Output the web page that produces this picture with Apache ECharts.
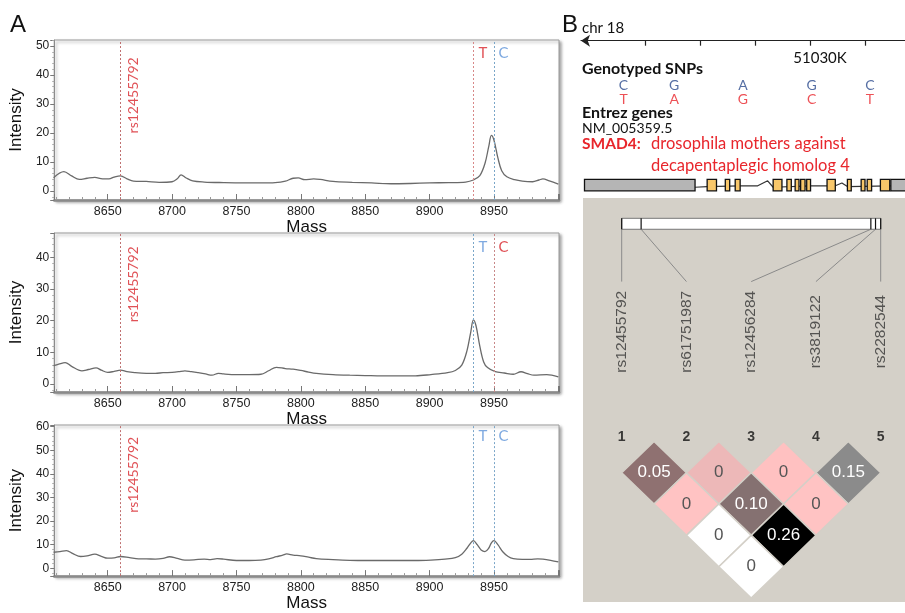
<!DOCTYPE html>
<html><head><meta charset="utf-8">
<script src="https://cdn.jsdelivr.net/npm/echarts@6/dist/echarts.min.js"></script>
<style>html,body{margin:0;padding:0;background:#fff}#c{width:905px;height:613px}</style>
</head><body><div id="c"></div>
<script>
// ---------------- DATA ----------------
// Panel A: mass spectra [mass, intensity]
const spectrumTop = [[8608,4.6],[8616,6.7],[8622,5.2],[8628,4.0],[8634,4.4],[8640,4.7],[8646,4.2],[8651,4.2],[8655,4.8],[8660,5.2],[8665,4.2],[8670,3.4],[8680,3.3],[8690,3.0],[8700,3.2],[8704,4.2],[8707,5.6],[8711,4.5],[8716,3.5],[8725,3.1],[8740,2.9],[8755,2.8],[8770,2.8],[8780,2.9],[8788,3.4],[8794,4.4],[8798,4.5],[8803,3.9],[8810,4.2],[8815,4.0],[8825,3.3],[8840,3.0],[8855,2.8],[8870,2.5],[8885,2.6],[8900,2.8],[8915,2.9],[8928,3.1],[8934,3.8],[8939,5.3],[8943,9.5],[8946,15.5],[8948,19.2],[8950,17.5],[8953,11.5],[8956,7.0],[8960,4.9],[8966,3.9],[8972,3.4],[8980,3.2],[8985,3.8],[8988,4.2],[8993,3.5],[9000,2.4]];
const spectrumMiddle = [[8608,5.8],[8612,6.3],[8617,6.8],[8622,5.6],[8630,4.2],[8635,4.6],[8641,5.1],[8645,4.4],[8650,3.7],[8655,4.0],[8660,4.4],[8665,3.9],[8671,3.6],[8680,3.4],[8687,3.4],[8693,3.6],[8700,3.7],[8705,3.9],[8710,4.2],[8715,3.9],[8720,3.6],[8726,3.2],[8731,2.8],[8736,3.4],[8740,3.2],[8750,3.0],[8760,3.0],[8769,3.1],[8775,4.2],[8781,5.3],[8788,4.9],[8794,4.7],[8800,4.3],[8806,3.8],[8812,3.4],[8825,3.0],[8838,2.8],[8850,2.7],[8863,2.6],[8875,2.6],[8889,2.6],[8901,3.0],[8914,3.6],[8920,4.3],[8925,6.0],[8929,10.5],[8932,16.5],[8934,20.3],[8936,18.5],[8939,12.0],[8942,7.0],[8945,5.2],[8951,3.9],[8958,3.5],[8965,3.1],[8971,3.9],[8976,3.3],[8981,2.8],[8991,3.0],[9000,2.3]];
const spectrumBottom = [[8608,6.8],[8613,7.1],[8618,7.5],[8623,6.2],[8629,5.0],[8634,5.3],[8640,6.0],[8645,5.1],[8650,4.3],[8655,4.4],[8660,5.0],[8667,4.5],[8674,4.0],[8680,4.0],[8687,3.9],[8693,4.2],[8698,4.9],[8704,4.2],[8710,3.5],[8717,3.6],[8725,3.9],[8730,3.7],[8735,4.1],[8740,3.9],[8750,3.3],[8760,3.3],[8769,3.5],[8775,4.0],[8781,4.9],[8786,5.6],[8789,6.1],[8794,5.6],[8800,5.3],[8806,4.7],[8812,4.1],[8825,3.7],[8838,3.4],[8850,3.3],[8863,3.3],[8876,3.3],[8889,3.3],[8901,3.5],[8912,3.9],[8920,4.5],[8925,6.0],[8929,8.5],[8932,10.8],[8934,11.7],[8937,10.0],[8940,7.8],[8943,7.1],[8946,8.6],[8948,10.8],[8950,11.7],[8953,10.0],[8957,6.9],[8961,5.0],[8965,4.1],[8972,3.8],[8978,3.8],[8984,4.0],[8988,3.9],[8994,3.4],[9000,2.7]];
const massTickLabels = [8650, 8700, 8750, 8800, 8850, 8900, 8950];
const markerName = 'rs12455792';
const markerMass = 8660;
const alleleNames = ['T', 'C'];
const alleleMasses = [8934, 8950];

// Panel B: genomic track (kb)
const chrName = 'chr 18';
const chrTickKb = [51000, 51010, 51020, 51030, 51040];
const chrLabelKb = [51030];
const snpPosKb = [50996.1, 51005.3, 51017.8, 51030.3, 51040.9];
const snpRefAllele = ['C', 'G', 'A', 'G', 'C'];
const snpAltAllele = ['T', 'A', 'G', 'C', 'T'];
const geneName = 'SMAD4:';
const geneDesc = ['drosophila mothers against', 'decapentaplegic homolog 4'];
const transcriptId = 'NM_005359.5';
// [startKb, endKb, kind] kind 0 = UTR, 1 = coding exon
const geneExons = [[50989.0,51009.1,0],[51011.3,51013.0,1],[51014.6,51015.4,1],[51016.4,51017.3,1],[51023.3,51024.9,1],[51025.8,51026.6,1],[51027.3,51028.0,1],[51028.3,51029.1,1],[51029.4,51030.1,1],[51033.1,51034.6,1],[51036.8,51037.5,1],[51039.3,51040.0,1],[51040.4,51041.2,1],[51042.8,51044.5,1],[51044.7,51049.0,0]];
// intron connector path [kb, track offset]
const intronPath = [[51009.1,0.15],[51011.3,0.1],[51017.3,0.05],[51020.5,0.05],[51022.3,-0.3],[51023.3,0.15],[51030.1,0.05],[51033.1,0.05],[51034.6,0.05],[51035.8,-0.15],[51036.8,0.1],[51044.7,0.05]];

// Panel B: marker map and LD
const ldSnpNames = ['rs12455792', 'rs61751987', 'rs12456284', 'rs3819122', 'rs2282544'];
const ldSnpMapKb = [0, 0.75, 9.62, 9.8, 10.0];
const ldPairs = [[1,2],[2,3],[3,4],[4,5],[1,3],[2,4],[3,5],[1,4],[2,5],[1,5]];
const ldValues = ['0.05','0','0','0.15','0','0.10','0','0','0.26','0'];

// ---------------- STYLE / LAYOUT ----------------
const LD_FILL = ['#8F7171','#EDB8B8','#FFC1C1','#8B8B8B','#FFC3C3','#857171','#FFC3C3','#FFFFFF','#000000','#FFFFFF'];
const LD_TEXT = ['#fff','#555','#555','#fff','#555','#fff','#555','#555','#fff','#555'];
const RED = '#D8262C', BLUE = '#5E93D8';
const SANS = '"Liberation Sans", Arial, sans-serif';
const HUMAN = 'Lato, "Open Sans", sans-serif';
const panels = [
  {data: spectrumTop, top: 40, height: 160, ymin: -3.1, ymax: 52.1, rsY: 33, alY: 47.6, alColors: [RED, BLUE], lineColors: ['#D88888', '#7AA6C8']},
  {data: spectrumMiddle, top: 233, height: 159, ymin: -2.5, ymax: 47.7, rsY: 31.5, alY: 43.3, alColors: [BLUE, RED], lineColors: ['#7AA6C8', '#C88888']},
  {data: spectrumBottom, top: 425, height: 157, ymin: -3.3, ymax: 60.7, rsY: 39.6, alY: 55.9, alColors: [BLUE, BLUE], lineColors: ['#7AA6C8', '#7AA6C8']}
];
const GENE_ROW = 8;
const BAR_TOP = -7.12, BAR_BOTTOM = -6.77, NAME_TOP = -5.1, NAME_MID = -3.5, NUM_ROW = -0.15;
const mapToIdx = kb => 1 + 4 * (kb - ldSnpMapKb[0]) / (ldSnpMapKb[4] - ldSnpMapKb[0]);

const grids = [], xAxes = [], yAxes = [], series = [];
panels.forEach((p, k) => {
  grids.push({left: 48, width: 511, top: p.top, height: p.height, show: true, backgroundColor: '#fff',
    borderColor: '#9a9a9a', borderWidth: 1, shadowColor: 'rgba(0,0,0,0.35)', shadowBlur: 3, shadowOffsetX: 2, shadowOffsetY: 2});
  xAxes.push({gridIndex: k, type: 'value', min: 8608.5, max: 9000.5, splitNumber: 8,
    axisLine: {onZero: false, lineStyle: {color: '#8a8a8a', width: 2.5}},
    axisTick: {inside: true, length: 6, lineStyle: {color: '#777'}},
    minorTick: {show: true, splitNumber: 5, length: 3, lineStyle: {color: '#999'}},
    axisLabel: {color: '#222', fontFamily: SANS, fontSize: 12.5, margin: 5,
      formatter: v => massTickLabels.indexOf(Math.round(v)) >= 0 ? String(Math.round(v)) : ''},
    splitLine: {show: false},
    name: 'Mass', nameLocation: 'middle', nameGap: 12, nameTextStyle: {fontSize: 17, color: '#111', fontFamily: SANS, verticalAlign: 'top'}});
  yAxes.push({gridIndex: k, type: 'value', min: p.ymin, max: p.ymax, splitNumber: 5,
    axisLine: {show: true, onZero: false, lineStyle: {color: '#8a8a8a'}},
    axisTick: {show: true, length: 4, lineStyle: {color: '#777'}},
    minorTick: {show: true, splitNumber: 5, length: 2, lineStyle: {color: '#aaa'}},
    axisLabel: {color: '#222', fontFamily: SANS, fontSize: 12, margin: 5,
      formatter: v => (Math.abs(v - Math.round(v / 10) * 10) < 1e-6) ? String(Math.round(v)) : ''},
    splitLine: {show: false},
    name: 'Intensity', nameLocation: 'middle', nameGap: 20, nameRotate: 90, nameTextStyle: {fontSize: 17, color: '#111', fontFamily: SANS}});
  series.push({type: 'line', xAxisIndex: k, yAxisIndex: k, data: p.data, smooth: 0.35, showSymbol: false,
    lineStyle: {color: '#6a6a6a', width: 1.3}, z: 3,
    markLine: {silent: true, symbol: 'none', label: {show: false},
      data: [
        {xAxis: markerMass, lineStyle: {color: '#C07070', type: [2, 2], width: 1}},
        {xAxis: alleleMasses[0], lineStyle: {color: p.lineColors[0], type: [2, 2], width: 1}},
        {xAxis: alleleMasses[1], lineStyle: {color: p.lineColors[1], type: [2, 2], width: 1}}
      ]}});
  series.push({type: 'scatter', xAxisIndex: k, yAxisIndex: k, symbolSize: 0, silent: true, z: 5,
    data: [[markerMass + 10, p.rsY]],
    label: {show: true, position: 'inside', rotate: 90, formatter: markerName, color: RED, fontFamily: HUMAN, fontSize: 14}});
  series.push({type: 'scatter', xAxisIndex: k, yAxisIndex: k, symbolSize: 0, silent: true, z: 5,
    data: alleleMasses.map((m, a) => ({value: [m + 7.5, p.alY], label: {color: p.alColors[a], formatter: alleleNames[a]}})),
    label: {show: true, position: 'inside', fontFamily: HUMAN, fontSize: 15}});
});

// Gene track grid (index 3)
grids.push({left: 581, width: 324, top: 40.7, height: 158.7});
xAxes.push({gridIndex: 3, type: 'value', position: 'top', min: 50988.364, max: 51047.273,
  axisLine: {show: true, onZero: false, symbol: ['arrow', 'none'], symbolSize: [9, 9], lineStyle: {color: '#222', width: 1.2}},
  axisTick: {show: true, inside: true, length: 5, customValues: chrTickKb, lineStyle: {color: '#222', width: 1.2}},
  axisLabel: {show: true, inside: true, customValues: chrLabelKb, formatter: v => v + 'K', color: '#111', fontFamily: HUMAN, fontSize: 15, margin: 10, padding: [0, 0, 0, 20]},
  splitLine: {show: false}});
yAxes.push({gridIndex: 3, type: 'value', min: -2.1, max: 9, inverse: true, show: false});
series.push({type: 'line', xAxisIndex: 3, yAxisIndex: 3, data: intronPath.map(d => [d[0], GENE_ROW + d[1]]), showSymbol: false, silent: true,
  lineStyle: {color: '#333', width: 1.2}, z: 2});
series.push({type: 'custom', xAxisIndex: 3, yAxisIndex: 3, data: geneExons, silent: true, z: 3,
  renderItem: (params, api) => {
    const s = api.coord([api.value(0), GENE_ROW]);
    const e = api.coord([api.value(1), GENE_ROW]);
    const h = api.size([0, 0.8])[1];
    return {type: 'rect', shape: {x: s[0], y: s[1] - h / 2, width: e[0] - s[0], height: h},
      style: {fill: api.value(2) === 0 ? '#B5B5B5' : '#F8C76A', stroke: '#111', lineWidth: 1.3}};
  }});
series.push({type: 'scatter', xAxisIndex: 3, yAxisIndex: 3, symbolSize: 0, silent: true,
  data: snpPosKb.map((x, i) => ({value: [x, 1], label: {formatter: snpRefAllele[i]}})),
  label: {show: true, position: 'inside', color: '#2B4A8C', fontFamily: HUMAN, fontSize: 14}});
series.push({type: 'scatter', xAxisIndex: 3, yAxisIndex: 3, symbolSize: 0, silent: true,
  data: snpPosKb.map((x, i) => ({value: [x, 2], label: {formatter: snpAltAllele[i]}})),
  label: {show: true, position: 'inside', color: '#E8262C', fontFamily: HUMAN, fontSize: 14}});

// LD grid (index 4)
grids.push({left: 583, width: 322, top: 198, height: 404, show: true, backgroundColor: '#D4D0C8', borderWidth: 0});
xAxes.push({gridIndex: 4, type: 'value', min: 0.4023, max: 5.3753, show: false});
yAxes.push({gridIndex: 4, type: 'value', min: -7.768, max: 5.127, inverse: true, show: false});
// map bar
series.push({type: 'custom', xAxisIndex: 4, yAxisIndex: 4, silent: true, z: 3,
  data: [[ldSnpMapKb[0], ldSnpMapKb[ldSnpMapKb.length - 1]]],
  renderItem: (params, api) => {
    const a = api.coord([mapToIdx(api.value(0)), BAR_TOP]);
    const b = api.coord([mapToIdx(api.value(1)), BAR_BOTTOM]);
    const children = [{type: 'rect', shape: {x: a[0], y: a[1], width: b[0] - a[0], height: b[1] - a[1]},
      style: {fill: '#fff', stroke: '#777', lineWidth: 1}}];
    ldSnpMapKb.forEach(kb => {
      const t = api.coord([mapToIdx(kb), BAR_TOP]);
      const u = api.coord([mapToIdx(kb), BAR_BOTTOM]);
      children.push({type: 'line', shape: {x1: t[0], y1: t[1], x2: u[0], y2: u[1]}, style: {stroke: '#111', lineWidth: 1.2}});
    });
    return {type: 'group', children};
  }});
// connectors
series.push({type: 'custom', xAxisIndex: 4, yAxisIndex: 4, silent: true, z: 2,
  data: ldSnpMapKb.map((kb, i) => [mapToIdx(kb), i + 1]),
  renderItem: (params, api) => {
    const a = api.coord([api.value(0), BAR_BOTTOM]);
    const b = api.coord([api.value(1), NAME_TOP]);
    return {type: 'line', shape: {x1: a[0], y1: a[1], x2: b[0], y2: b[1]}, style: {stroke: '#8a8a8a', lineWidth: 1}};
  }});
// SNP names
series.push({type: 'scatter', xAxisIndex: 4, yAxisIndex: 4, symbolSize: 0, silent: true,
  data: ldSnpNames.map((n, i) => ({value: [i + 1, NAME_MID], label: {formatter: n}})),
  label: {show: true, position: 'inside', rotate: 90, color: '#333', fontFamily: SANS, fontSize: 15.5}});
// SNP numbers
series.push({type: 'scatter', xAxisIndex: 4, yAxisIndex: 4, symbolSize: 0, silent: true,
  data: ldSnpNames.map((n, i) => ({value: [i + 1, NUM_ROW], label: {formatter: String(i + 1)}})),
  label: {show: true, position: 'inside', color: '#111', fontWeight: 'bold', fontFamily: SANS, fontSize: 14}});
// LD diamonds
series.push({type: 'custom', xAxisIndex: 4, yAxisIndex: 4, silent: true, z: 3, data: ldPairs,
  renderItem: (params, api) => {
    const i = api.value(0), j = api.value(1);
    const cx = (i + j) / 2, d = j - i;
    const pts = [[cx - 0.5, d], [cx, d - 1], [cx + 0.5, d], [cx, d + 1]].map(q => api.coord(q));
    const c = api.coord([cx, d]);
    const k = params.dataIndex;
    return {type: 'group', children: [
      {type: 'polygon', shape: {points: pts}, style: {fill: LD_FILL[k], stroke: '#D4D0C8', lineWidth: 1.5}},
      {type: 'text', x: c[0], y: c[1], style: {text: ldValues[k], fill: LD_TEXT[k], font: '17px ' + SANS, align: 'center', verticalAlign: 'middle'}}
    ]};
  }});

const txt = (x, y, text, opts) => Object.assign({type: 'text', x, y, style: Object.assign({text, fill: '#111', font: '15px ' + HUMAN, verticalAlign: 'middle'}, opts || {})});
const graphic = [
  txt(10, 25, 'A', {font: '24px ' + SANS}),
  txt(562, 25, 'B', {font: '24px ' + SANS}),
  txt(582, 28, chrName, {font: '15px ' + HUMAN}),
  txt(582, 69, 'Genotyped SNPs', {font: 'bold 16px ' + HUMAN}),
  txt(582, 113, 'Entrez genes', {font: 'bold 16px ' + HUMAN}),
  txt(582, 128, transcriptId, {font: '14px ' + HUMAN}),
  txt(582, 144, geneName, {font: 'bold 15.5px ' + HUMAN, fill: '#E8262C'}),
  txt(651, 144, geneDesc[0], {font: '16.5px ' + HUMAN, fill: '#E8262C'}),
  txt(651, 166, geneDesc[1], {font: '16.5px ' + HUMAN, fill: '#E8262C'})
];

const chart = echarts.init(document.getElementById('c'), null, {renderer: 'canvas'});
chart.setOption({animation: false, backgroundColor: '#fff', grid: grids, xAxis: xAxes, yAxis: yAxes, series, graphic});
</script></body></html>
